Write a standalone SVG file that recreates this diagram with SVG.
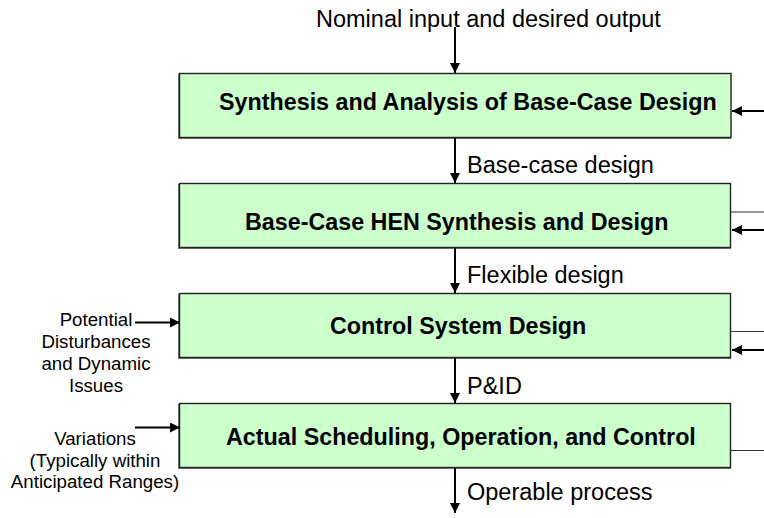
<svg xmlns="http://www.w3.org/2000/svg" width="764" height="518" viewBox="0 0 764 518">
  <style>
    .box { fill: #ccffcc; stroke: #222; stroke-width: 1.4; }
    .shadow { fill: none; stroke: #777; stroke-width: 2; }
    .title { font-family: "Liberation Sans", Arial, sans-serif; font-weight: bold; font-size: 23.3px; fill: #000; }
    .lbl { font-family: "Liberation Sans", Arial, sans-serif; font-size: 23.5px; fill: #000; }
    .side { font-family: "Liberation Sans", Arial, sans-serif; font-size: 18.7px; fill: #000; text-anchor: middle; }
    .arrow { stroke: #000; stroke-width: 2; fill: none; marker-end: url(#head); }
    .thin { stroke: #333; stroke-width: 1.2; fill: none; }
  </style>
  <defs>
    <marker id="head" viewBox="0 0 10 10" refX="10" refY="5" markerWidth="5.5" markerHeight="5" orient="auto" markerUnits="strokeWidth">
      <path d="M0,0 L10,5 L0,10 Z" fill="#000"/>
    </marker>
  </defs>
  <rect width="764" height="518" fill="#fff"/>

  <g id="node-synthesis">
    <path class="shadow" d="M179,74 V138 H731"/>
    <rect class="box" x="179.5" y="73.5" width="551.5" height="64"/>
    <text class="title" x="219" y="110">Synthesis and Analysis of Base-Case Design</text>
  </g>
  <g id="node-hen">
    <path class="shadow" d="M179,184 V248 H731"/>
    <rect class="box" x="179.5" y="183.5" width="551" height="64"/>
    <text class="title" x="245" y="230">Base-Case HEN Synthesis and Design</text>
  </g>
  <g id="node-control">
    <path class="shadow" d="M179,294 V358 H731"/>
    <rect class="box" x="179.5" y="293.5" width="551" height="64"/>
    <text class="title" x="330" y="334">Control System Design</text>
  </g>
  <g id="node-operation">
    <path class="shadow" d="M179,404 V468 H731"/>
    <rect class="box" x="179.5" y="403.5" width="551" height="64"/>
    <text class="title" x="226" y="445">Actual Scheduling, Operation, and Control</text>
  </g>

  <g id="labels">
    <text class="lbl" x="316" y="27">Nominal input and desired output</text>
    <text class="lbl" x="467" y="173">Base-case design</text>
    <text class="lbl" x="467" y="283">Flexible design</text>
    <text class="lbl" x="467" y="394">P&amp;ID</text>
    <text class="lbl" x="467" y="500">Operable process</text>
    <text class="side" x="96" y="326">Potential</text>
    <text class="side" x="96" y="348">Disturbances</text>
    <text class="side" x="96" y="370">and Dynamic</text>
    <text class="side" x="96" y="392">Issues</text>
    <text class="side" x="95" y="445">Variations</text>
    <text class="side" x="95" y="467">(Typically within</text>
    <text class="side" x="95" y="488">Anticipated Ranges)</text>
  </g>

  <g id="connectors">
    <line class="arrow" x1="455" y1="27" x2="455" y2="73"/>
    <line class="arrow" x1="455" y1="138" x2="455" y2="183"/>
    <line class="arrow" x1="455" y1="248" x2="455" y2="293"/>
    <line class="arrow" x1="455" y1="358" x2="455" y2="403"/>
    <line class="arrow" x1="455" y1="468" x2="455" y2="513"/>
    <line class="arrow" x1="135" y1="322.5" x2="180" y2="322.5"/>
    <line class="arrow" x1="135" y1="427.5" x2="180" y2="427.5"/>
    <line class="arrow" x1="764" y1="111" x2="732" y2="111"/>
    <line class="arrow" x1="764" y1="230" x2="732" y2="230"/>
    <line class="arrow" x1="764" y1="350" x2="732" y2="350"/>
    <line class="thin" x1="731" y1="212" x2="764" y2="212"/>
    <line class="thin" x1="731" y1="331.5" x2="764" y2="331.5"/>
    <line class="thin" x1="731" y1="450.5" x2="764" y2="450.5"/>
  </g>
</svg>
